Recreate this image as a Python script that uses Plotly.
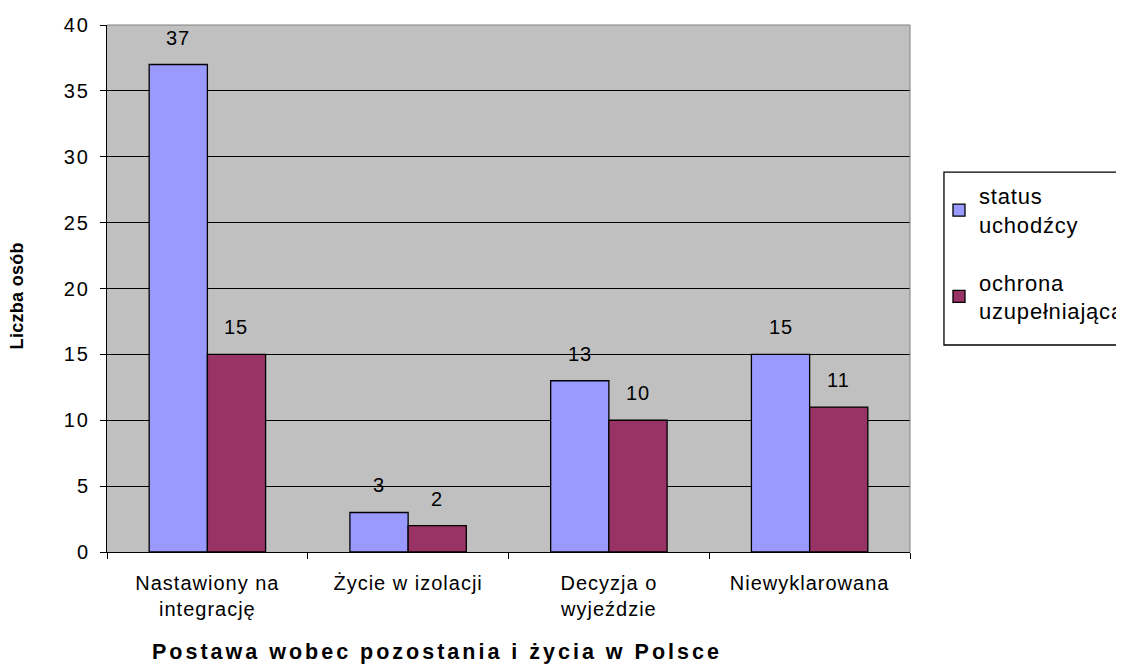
import plotly.graph_objects as go

categories = ["Nastawiony na\nintegrację", "Życie w izolacji", "Decyzja o\nwyjeździe", "Niewyklarowana"]
status_uchodzcy = [37, 3, 13, 15]
ochrona_uzup = [15, 2, 10, 11]
series_names = ["status\nuchodźcy", "ochrona\nuzupełniająca"]
colors = ["#9999FF", "#993366"]
y_ticks = [0, 5, 10, 15, 20, 25, 30, 35, 40]


def spaced(txt, ls):
    return "<br>".join(f"<span style='letter-spacing:{ls}px'>{line}</span>" for line in txt.split("\n"))


font = "Liberation Sans, Arial, sans-serif"
fig = go.Figure()
for i, (name, vals, col) in enumerate(zip(series_names, [status_uchodzcy, ochrona_uzup], colors)):
    fig.add_trace(go.Bar(
        x=categories, y=vals, name=spaced(name, 0.8), legendgroup=f"g{i}",
        marker=dict(color=col, line=dict(color="black", width=1.3)),
    ))

annotations = []
for vals, shift in [(status_uchodzcy, -29), (ochrona_uzup, 29)]:
    for c, v in zip(categories, vals):
        annotations.append(dict(x=c, y=v, text=spaced(str(v), 1.0), showarrow=False,
                                xshift=shift, yshift=27, yanchor="middle",
                                font=dict(family=font, size=20, color="black")))
annotations.append(dict(xref="paper", yref="paper", x=0.411, y=0, yshift=-100,
                        xanchor="center", yanchor="middle", showarrow=False,
                        text=spaced("<b>Postawa wobec pozostania i życia w Polsce</b>", 3.0),
                        font=dict(family=font, size=21.5, color="black")))
annotations.append(dict(xref="paper", yref="paper", x=0, xshift=-90, y=0.485,
                        xanchor="center", yanchor="middle", showarrow=False, textangle=-90,
                        text=spaced("<b>Liczba osób</b>", 0.3),
                        font=dict(family=font, size=18, color="black")))

fig.update_layout(
    width=1124, height=671,
    paper_bgcolor="white", plot_bgcolor="#C0C0C0",
    margin=dict(l=99, r=222, t=17, b=127, autoexpand=False),
    barmode="group", bargap=0.42, bargroupgap=0,
    font=dict(family=font, size=20, color="black"),
    showlegend=True,
    legend=dict(x=1.0361, y=0.7154, xanchor="left", yanchor="top",
                bgcolor="rgba(0,0,0,0)", borderwidth=0,
                font=dict(size=22), tracegroupgap=26, itemwidth=30,
                traceorder="grouped"),
    annotations=annotations,
    xaxis=dict(
        showline=True, linecolor="black", linewidth=1,
        ticks="outside", ticklen=6, tickcolor="black", tickson="boundaries",
        tickvals=categories, ticktext=[spaced(c, 1.0) for c in categories],
        tickfont=dict(size=20), ticklabelstandoff=13,
    ),
    yaxis=dict(
        range=[0, 40], tickvals=y_ticks, ticktext=[spaced(str(t), 2.0) for t in y_ticks],
        showgrid=True, gridcolor="black", gridwidth=1,
        showline=True, linecolor="black", linewidth=1,
        ticks="outside", ticklen=6, tickcolor="black",
        tickfont=dict(size=20), ticklabelstandoff=6,
        zeroline=False,
    ),
)
# legend frame
fig.add_shape(type="rect", xref="paper", yref="paper", x0=1.0423, x1=1.30, y0=0.3928, y1=0.721,
              line=dict(color="black", width=1.3), fillcolor="white", layer="below")
fig.add_shape(type="line", xref="paper", yref="paper", x0=1, x1=1, y0=0, y1=1,
              line=dict(color="#808080", width=1))
fig.add_shape(type="line", xref="paper", yref="paper", x0=0, x1=1, y0=1, y1=1,
              line=dict(color="#808080", width=1))
fig.write_html("out.html")
